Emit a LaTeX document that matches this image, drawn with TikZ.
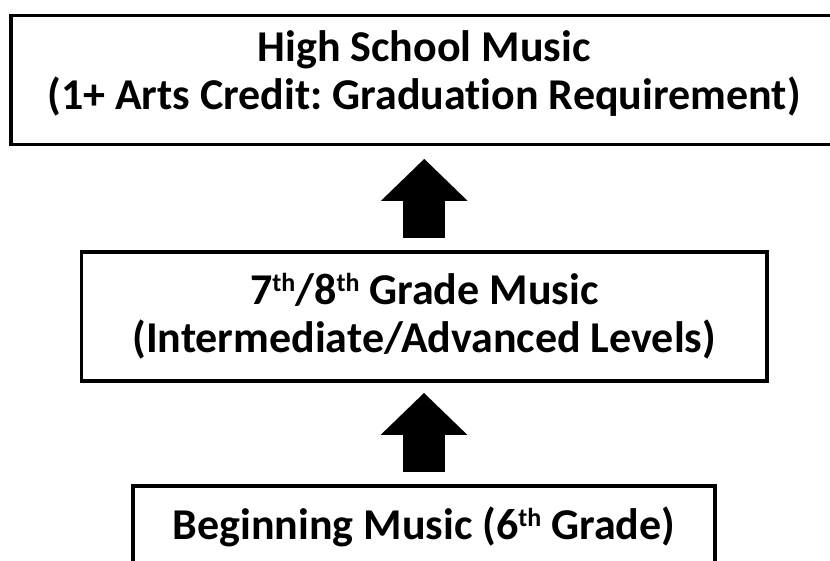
\documentclass[tikz,border=0pt]{standalone}
\usepackage{fontspec}
\setmainfont{Carlito}[Ligatures=NoCommon]
\usetikzlibrary{arrows.meta}
\frenchspacing
\newcommand\ordsup[1]{\raisebox{13pt}{\fontsize{26}{26}\selectfont #1}}

\tikzset{
	box/.style={draw, line width=3.6pt, inner sep=0pt, align=center,
		font=\bfseries\fontsize{44}{48}\selectfont},
	blockarr/.style={line width=42pt, -{Triangle[length=42pt,width=84pt]}}
}

\begin{document}
\begin{tikzpicture}[x=1pt,y=-1pt]
	\useasboundingbox (0,0) rectangle (830,561);
	\clip (0,0) rectangle (830,561);
	% the three levels
	\node[box, minimum width=826pt, minimum height=129.2pt, text depth=20pt] (high) at (424,80.1)
		{High School Music\\(1+ Arts Credit: Graduation Requirement)};
	\node[box, minimum width=685.5pt, minimum height=129.3pt] (middle) at (424.25,316.4)
		{7\ordsup{th}/8\ordsup{th} Grade Music\\(Intermediate/Advanced Levels)};
	\node[box, minimum width=582pt, minimum height=82pt] (begin) at (424,527)
		{Beginning Music (6\ordsup{th} Grade)};
	%
	\draw[blockarr, shorten <=11.7pt, shorten >=12.3pt] (middle.north) -- (middle.north |- high.south);
	\draw[blockarr, shorten <=12pt, shorten >=10pt] (begin.north) -- (begin.north |- middle.south);
\end{tikzpicture}
\end{document}
